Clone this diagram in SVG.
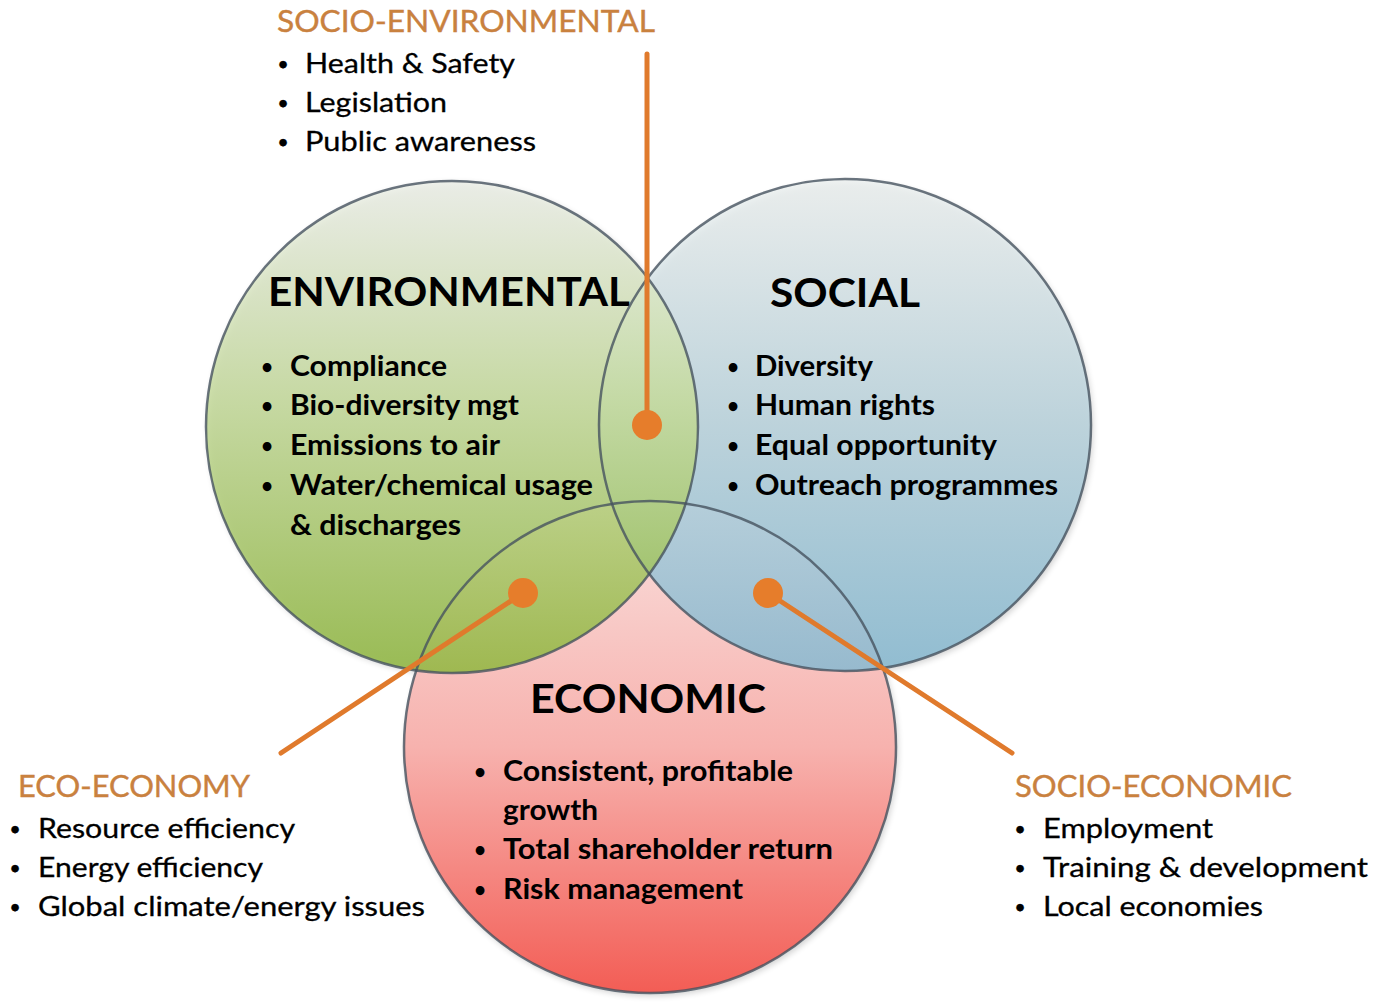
<svg xmlns="http://www.w3.org/2000/svg" width="1377" height="1002" viewBox="0 0 1377 1002">
<style>
.title{font-family:Lato,"Open Sans",sans-serif;font-weight:bold;font-size:41px;fill:#000}
.in{font-family:Lato,"Open Sans",sans-serif;font-weight:bold;font-size:28px;fill:#000}
.out{font-family:Lato,"Open Sans",sans-serif;font-size:27px;fill:#000;stroke:#000;stroke-width:0.3}
.lab{font-family:Lato,"Open Sans",sans-serif;font-size:30px;fill:#c9813f;stroke:#c9813f;stroke-width:0.4}
.b{text-anchor:middle;font-size:20px}
.ring{fill:none;stroke:#46535f;stroke-width:2.5;stroke-opacity:0.8}
.con{stroke:#e07a2c;stroke-width:5;stroke-linecap:round;fill:none}
.dot{fill:#e67d2b}
</style>
<defs>
<linearGradient id="gG" x1="0" y1="0" x2="0" y2="1">
<stop offset="0" stop-color="#eef1ea"/><stop offset="0.45" stop-color="#c4da9a"/><stop offset="1" stop-color="#8fb73e"/>
</linearGradient>
<linearGradient id="gB" x1="0" y1="0" x2="0" y2="1">
<stop offset="0" stop-color="#eef2f1"/><stop offset="0.5" stop-color="#b9d3dd"/><stop offset="1" stop-color="#86b9d1"/>
</linearGradient>
<linearGradient id="gR" x1="0" y1="0" x2="0" y2="1">
<stop offset="0" stop-color="#f9e0de"/><stop offset="0.5" stop-color="#f7b2ae"/><stop offset="1" stop-color="#f35d55"/>
</linearGradient>
<filter id="sh" x="-10%" y="-10%" width="120%" height="120%"><feGaussianBlur stdDeviation="3"/></filter>
</defs>
<rect width="1377" height="1002" fill="#fff"/>

<g id="shadows" fill="#000" opacity="0.18" filter="url(#sh)">
<circle cx="652" cy="750" r="246"/>
<circle cx="847" cy="428" r="246"/>
<circle cx="454" cy="429" r="246"/>
</g>

<g id="economic">
<circle cx="650" cy="747" r="246" fill="url(#gR)"/>
<text class="title" x="530" y="713" textLength="236" lengthAdjust="spacingAndGlyphs">ECONOMIC</text>
<text class="in b" x="480" y="779">•</text><text class="in" x="503" y="781" textLength="290" lengthAdjust="spacingAndGlyphs">Consistent, profitable</text>
<text class="in" x="503" y="820" textLength="95" lengthAdjust="spacingAndGlyphs">growth</text>
<text class="in b" x="480" y="857">•</text><text class="in" x="503" y="859" textLength="330" lengthAdjust="spacingAndGlyphs">Total shareholder return</text>
<text class="in b" x="480" y="897">•</text><text class="in" x="503" y="899" textLength="240" lengthAdjust="spacingAndGlyphs">Risk management</text>
</g>

<g id="social">
<circle cx="845" cy="425" r="246" fill="url(#gB)" fill-opacity="0.85"/>
<text class="title" x="770" y="307" textLength="150" lengthAdjust="spacingAndGlyphs">SOCIAL</text>
<text class="in b" x="733" y="374">•</text><text class="in" x="755" y="376" textLength="118" lengthAdjust="spacingAndGlyphs">Diversity</text>
<text class="in b" x="733" y="413">•</text><text class="in" x="755" y="415" textLength="180" lengthAdjust="spacingAndGlyphs">Human rights</text>
<text class="in b" x="733" y="453">•</text><text class="in" x="755" y="455" textLength="242" lengthAdjust="spacingAndGlyphs">Equal opportunity</text>
<text class="in b" x="733" y="493">•</text><text class="in" x="755" y="495" textLength="303" lengthAdjust="spacingAndGlyphs">Outreach programmes</text>
</g>

<g id="environmental">
<circle cx="452" cy="427" r="246" fill="url(#gG)" fill-opacity="0.85"/>
<text class="title" x="268" y="306" textLength="362" lengthAdjust="spacingAndGlyphs">ENVIRONMENTAL</text>
<text class="in b" x="267" y="374">•</text><text class="in" x="290" y="376" textLength="157" lengthAdjust="spacingAndGlyphs">Compliance</text>
<text class="in b" x="267" y="413">•</text><text class="in" x="290" y="415" textLength="229" lengthAdjust="spacingAndGlyphs">Bio-diversity mgt</text>
<text class="in b" x="267" y="453">•</text><text class="in" x="290" y="455" textLength="210" lengthAdjust="spacingAndGlyphs">Emissions to air</text>
<text class="in b" x="267" y="493">•</text><text class="in" x="290" y="495" textLength="303" lengthAdjust="spacingAndGlyphs">Water/chemical usage</text>
<text class="in" x="290" y="535" textLength="171" lengthAdjust="spacingAndGlyphs">&amp; discharges</text>
</g>

<g id="outlines">
<circle class="ring" cx="650" cy="747" r="246"/>
<circle class="ring" cx="845" cy="425" r="246"/>
<circle class="ring" cx="452" cy="427" r="246"/>
</g>

<g id="connectors">
<line class="con" x1="647" y1="54" x2="647" y2="425"/>
<circle class="dot" cx="647" cy="425" r="15"/>
<line class="con" x1="523" y1="593" x2="281" y2="753"/>
<circle class="dot" cx="523" cy="593" r="15"/>
<line class="con" x1="768" y1="593" x2="1012" y2="753"/>
<circle class="dot" cx="768" cy="593" r="15"/>
</g>

<g id="socio-environmental">
<text class="lab" x="277" y="32" textLength="378" lengthAdjust="spacingAndGlyphs">SOCIO-ENVIRONMENTAL</text>
<text class="out b" x="283" y="71">•</text><text class="out" x="305" y="73" textLength="210" lengthAdjust="spacingAndGlyphs">Health &amp; Safety</text>
<text class="out b" x="283" y="110">•</text><text class="out" x="305" y="112" textLength="142" lengthAdjust="spacingAndGlyphs">Legislation</text>
<text class="out b" x="283" y="149">•</text><text class="out" x="305" y="151" textLength="231" lengthAdjust="spacingAndGlyphs">Public awareness</text>
</g>

<g id="eco-economy">
<text class="lab" x="18" y="797" textLength="232" lengthAdjust="spacingAndGlyphs">ECO-ECONOMY</text>
<text class="out b" x="15" y="836">•</text><text class="out" x="38" y="838" textLength="257" lengthAdjust="spacingAndGlyphs">Resource efficiency</text>
<text class="out b" x="15" y="875">•</text><text class="out" x="38" y="877" textLength="225" lengthAdjust="spacingAndGlyphs">Energy efficiency</text>
<text class="out b" x="15" y="914">•</text><text class="out" x="38" y="916" textLength="387" lengthAdjust="spacingAndGlyphs">Global climate/energy issues</text>
</g>

<g id="socio-economic">
<text class="lab" x="1015" y="797" textLength="277" lengthAdjust="spacingAndGlyphs">SOCIO-ECONOMIC</text>
<text class="out b" x="1020" y="836">•</text><text class="out" x="1043" y="838" textLength="170" lengthAdjust="spacingAndGlyphs">Employment</text>
<text class="out b" x="1020" y="875">•</text><text class="out" x="1043" y="877" textLength="325" lengthAdjust="spacingAndGlyphs">Training &amp; development</text>
<text class="out b" x="1020" y="914">•</text><text class="out" x="1043" y="916" textLength="220" lengthAdjust="spacingAndGlyphs">Local economies</text>
</g>
</svg>
